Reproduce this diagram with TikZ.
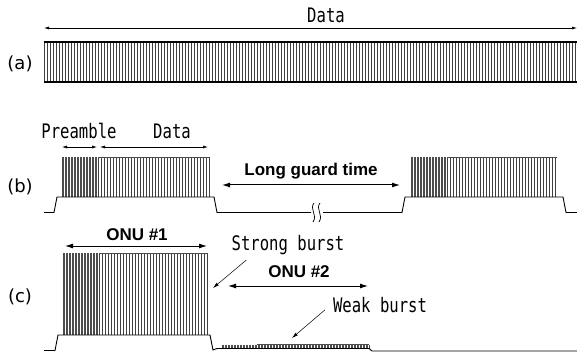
\documentclass[tikz,border=0pt]{standalone}
\usepackage{fontspec}
\setmainfont{DejaVu Sans}
\newfontfamily\monofont[FakeStretch=0.78]{DejaVu Sans Mono}
\newfontfamily\arialfont{Liberation Sans}
\usetikzlibrary{arrows.meta, positioning}
\tikzset{
  rowlbl/.style={font=\fontsize{18}{18}\selectfont, inner sep=0pt},
  monolbl/.style={font=\monofont\fontsize{20}{20}\selectfont, inner sep=1pt},
  boldlbl/.style={font=\arialfont\bfseries\fontsize{17}{17}\selectfont, inner sep=1pt},
  dimarr/.style={{Latex[length=5pt,width=3pt]}-{Latex[length=5pt,width=3pt]}, line width=0.6pt},
  spanarr/.style={{Latex[length=8pt,width=5pt]}-{Latex[length=8pt,width=5pt]}, line width=1pt},
  callout/.style={-{Latex[length=6pt,width=3.5pt]}, line width=0.5pt},
  wave/.style={line width=0.9pt},
  edge/.style={line width=1.1pt},
  hatch/.style={line width=0.45pt, black!75},
  fine/.style={line width=0.35pt, black!70},
}

\begin{document}
\begin{tikzpicture}[x=1pt,y=-1pt]
\useasboundingbox (0,0) rectangle (577,355);

% (a) continuous data
\node[rowlbl] (la) at (20,64) {(a)};
\coordinate (aL) at (44,28);
\coordinate (aR) at (577,28);
\draw[dimarr] (aL) -- (aR);
\node[monolbl] (adata) at (326,15) {Data};
\foreach \x in {44,47,...,576} \draw[hatch] (\x,42) -- (\x,82);
\draw[edge] (44,42) -- (577,42);
\draw[edge] (44,82) -- (577,82);

% (b) bursts with long guard time
\node[rowlbl] (lb) at (20,187) {(b)};
\node[monolbl] (pre) at (79,131) {Preamble};
\node[monolbl] (bdata) at (172,131) {Data};
\coordinate (preL) at (62,147);
\coordinate (preR) at (97,147);
\coordinate (datL) at (100,147);
\coordinate (datR) at (208,147);
\draw[dimarr] (preL) -- (preR);
\draw[dimarr] (datL) -- (datR);
\foreach \x in {62,63.5,...,97} \draw[fine] (\x,157) -- (\x,197);
\foreach \x in {98,101,...,209} \draw[hatch] (\x,157) -- (\x,197);
\draw[fine] (98,157) -- (209,157);
\foreach \x in {411,412.5,...,446} \draw[fine] (\x,157) -- (\x,197);
\foreach \x in {447,450,...,557} \draw[hatch] (\x,157) -- (\x,197);
\draw[fine] (447,157) -- (557,157);
\draw[wave] (44,212.5) -- (54,212.5) -- (57,197) -- (214,197) -- (217,212.5) -- (311,212.5);
\draw[wave] (323,212.5) -- (402,212.5) -- (405,197) -- (563,197) -- (566,212.5) -- (577,212.5);
\draw[line width=0.7pt] (314,203) .. controls (309,209) and (318,215) .. (313,222);
\draw[line width=0.7pt] (320,203) .. controls (315,209) and (324,215) .. (319,222);
\node[boldlbl] (guard) at (311,171) {Long guard time};
\coordinate (gL) at (222,185);
\coordinate (gR) at (400,185);
\draw[spanarr] (gL) -- (gR);

% (c) strong and weak bursts
\node[rowlbl] (lc) at (20,297) {(c)};
\node[boldlbl] (onu1) at (137,235) {ONU \#1};
\coordinate (o1L) at (65,246);
\coordinate (o1R) at (207,246);
\draw[spanarr] (o1L) -- (o1R);
\foreach \x in {63,64.5,...,98} \draw[fine] (\x,253) -- (\x,335);
\foreach \x in {99,102,...,208} \draw[hatch] (\x,253) -- (\x,335);
\draw[fine] (99,253) -- (208,253);
\foreach \x in {222,223.5,...,369} \draw[fine] (\x,344.5) -- (\x,348.5);
\draw[fine] (257,344.5) -- (369,344.5);
\draw[wave] (44,350.5) -- (55,350.5) -- (58,335) -- (210,335) -- (213,350) -- (217,348.5) -- (369,348.5) -- (372,351) -- (577,351);
\node[monolbl] (strong) at (288,245) {Strong burst};
\coordinate (sTip) at (213,288);
\draw[callout] ([xshift=16pt,yshift=-4pt]strong.south west) -- (sTip);
\node[boldlbl] (onu2) at (299,272) {ONU \#2};
\coordinate (o2L) at (228,286);
\coordinate (o2R) at (368,286);
\draw[spanarr] (o2L) -- (o2R);
\node[monolbl] (weak) at (380,305) {Weak burst};
\coordinate (wTip) at (292,338);
\draw[callout] ([xshift=-7pt,yshift=4pt]weak.south west) -- (wTip);
\end{tikzpicture}
\end{document}
